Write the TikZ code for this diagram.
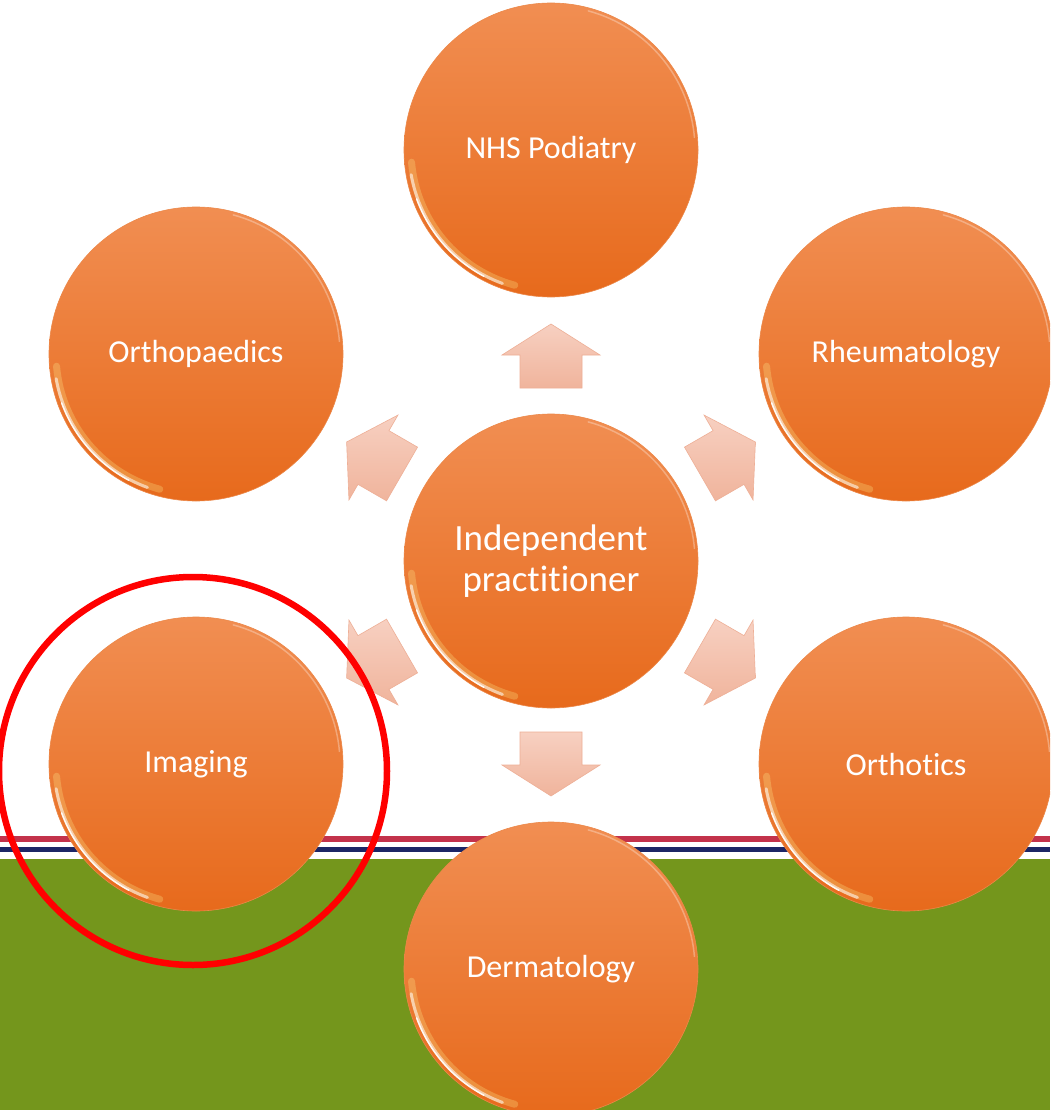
\documentclass[tikz,border=0pt]{standalone}
\usepackage{fontspec}
\setmainfont{Carlito}[Ligatures=NoCommon]
\definecolor{stripered}{RGB}{195,50,75}
\definecolor{stripenavy}{RGB}{28,38,102}
\definecolor{grass}{RGB}{116,150,28}
\definecolor{orangetop}{RGB}{241,142,82}
\definecolor{orangebot}{RGB}{231,106,28}
\definecolor{arrowtop}{RGB}{247,208,193}
\definecolor{arrowbot}{RGB}{240,180,156}
\definecolor{arrowedge}{RGB}{238,175,150}
\tikzset{
  bubble/.style={circle, minimum size=294pt, inner sep=0pt,
    top color=orangetop, bottom color=orangebot, text=white,
    draw=orangebot!80!white, line width=0.6pt,
    font=\fontsize{32}{38}\selectfont, align=center},
  hubbubble/.style={bubble, font=\fontsize{37}{41}\selectfont},
  blockarrow/.style={top color=arrowtop, bottom color=arrowbot, draw=arrowedge, line width=0.6pt, line join=miter},
  glint/.style={line cap=round}
}
\begin{document}
\begin{tikzpicture}[x=1pt,y=-1pt]
\useasboundingbox (0,0) rectangle (1050,1110);
\clip (0,0) rectangle (1050,1110);
% background
\fill[white] (0,0) rectangle (1050,1110);
\fill[stripered] (0,836) rectangle (1050,842);
\fill[stripenavy] (0,847) rectangle (1050,852);
\fill[grass] (0,859) rectangle (1050,1110);
% block arrows
\foreach \a in {-90,-30,30,90,150,210}{
  \path[blockarrow, shift={(551,560)}, rotate=\a]
    (172,-31) -- (205,-31) -- (205,-49) -- (236,0) -- (205,49) -- (205,31) -- (172,31) -- cycle;
}
% nodes
\node[hubbubble] (hub) at (551,561) {Independent\\prac\-t\kern0pt i\-t\kern0pt ioner};
\node[bubble] (nhs) at (551,150) {NHS Podiatry};
\node[bubble] (rheum) at (906,354) {Rheumatology};
\node[bubble] (orthot) at (906,764) {Orthotics};
\node[bubble] (derm) at (551,969) {Dermatology};
\node[bubble] (imag) at (196,764) {Imaging};
\node[bubble] (ortho) at (196,354) {Orthopaedics};
% glossy rims
\foreach \n in {hub,nhs,rheum,orthot,derm,imag,ortho}{
  \draw[glint, white!60!yellow, line width=7pt, opacity=0.25]
    (\n.center) ++(105:140) arc[start angle=105, end angle=175, radius=140];
  \draw[glint, white, line width=3pt, opacity=0.55]
    (\n.center) ++(110:142) arc[start angle=110, end angle=170, radius=142];
  \draw[glint, white, line width=1.5pt, opacity=0.9]
    (\n.center) ++(118:143) arc[start angle=118, end angle=160, radius=143];
  \draw[glint, white, line width=1.5pt, opacity=0.3]
    (\n.center) ++(-75:144) arc[start angle=-75, end angle=-5, radius=144];
}
% red highlight ring
\draw[red, line width=6.5pt] (193,771) circle[radius=194];
\end{tikzpicture}
\end{document}
